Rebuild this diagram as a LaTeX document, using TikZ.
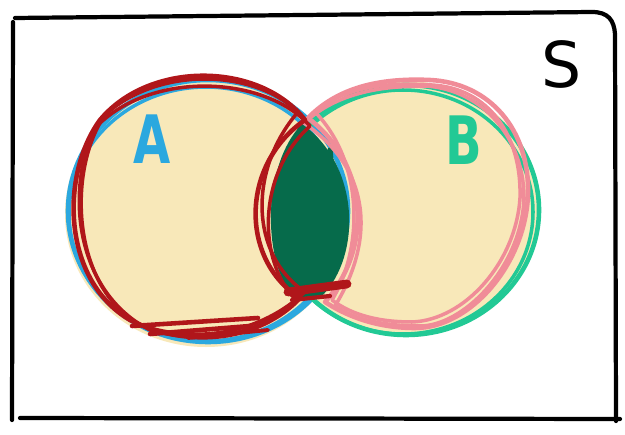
\documentclass[tikz,border=0pt]{standalone}
\usepackage{fontspec}
\setmainfont{DejaVu Sans}
\definecolor{cream}{HTML}{F8E8B9}
\definecolor{blueA}{HTML}{2BA8DF}
\definecolor{greenB}{HTML}{22C995}
\definecolor{pinkB}{HTML}{F08C98}
\definecolor{redA}{HTML}{B0161A}
\definecolor{lensG}{HTML}{066B4B}
\tikzset{
  frame/.style={draw=black, line width=2.4pt, line cap=round, line join=round},
  outl/.style={line width=2.6pt, line cap=round, line join=round},
  sketch/.style={line width=2pt, line cap=round, line join=round},
  lbl/.style={font=\bfseries\fontsize{38}{38}\selectfont, inner sep=0pt, xscale=0.72},
  slbl/.style={font=\fontsize{36}{36}\selectfont, inner sep=0pt}
}
\begin{document}
\begin{tikzpicture}[x=0.02cm,y=-0.02cm]
\useasboundingbox (0,0) rectangle (625,435);
\fill[white] (0,0) rectangle (625,435);
% frame
\draw[frame] (13,22) -- (12,420);
\draw[frame] (15,18) -- (592,12) .. controls (608,12) and (614,20) .. (615,34) -- (616,421);
\draw[frame] (20,418) -- (620,419);
% cream fills
\fill[cream] (206,214) ellipse [x radius=141, y radius=133];
\fill[cream] (407,208) ellipse [x radius=133, y radius=127];
% blue A outline
\draw[blueA, outl] (208,211) ellipse [x radius=140, y radius=131];
\draw[blueA, sketch] (206,214) ellipse [x radius=137, y radius=127];
% green B outline
\draw[greenB, outl] (406,210) ellipse [x radius=133, y radius=125];
\draw[greenB, sketch] (403,212) ellipse [x radius=130, y radius=122];
% dark green lens
\fill[lensG] (302,124) .. controls (262,165) and (262,262) .. (294,298)
  -- (322,296) .. controls (362,255) and (360,165) .. (302,124) -- cycle;
\draw[lensG, line width=3pt, line cap=round] (300,128) -- (292,282);
\draw[lensG, line width=3pt, line cap=round] (330,150) -- (340,260);
% pink B crescent
\draw[pinkB, outl] (308,118) .. controls (340,85) and (385,78) .. (430,80)
  .. controls (490,83) and (530,130) .. (528,195)
  .. controls (525,265) and (470,328) .. (415,328)
  .. controls (375,328) and (345,315) .. (325,302)
  .. controls (372,250) and (370,165) .. (308,118);
\draw[pinkB, sketch] (315,112) .. controls (345,86) and (390,82) .. (432,85)
  .. controls (488,88) and (522,135) .. (520,198)
  .. controls (516,262) and (465,320) .. (412,322)
  .. controls (372,322) and (348,312) .. (332,300)
  .. controls (365,245) and (362,160) .. (315,112);
\draw[pinkB, sketch] (304,123) .. controls (338,92) and (382,86) .. (426,86)
  .. controls (484,90) and (525,140) .. (524,200)
  .. controls (520,270) and (462,326) .. (420,326)
  .. controls (380,326) and (352,318) .. (335,306)
  .. controls (375,240) and (372,170) .. (304,123);
% red A crescent
\draw[redA, outl] (305,120) .. controls (260,62) and (150,60) .. (100,120)
  .. controls (60,175) and (62,280) .. (130,320)
  .. controls (190,350) and (260,340) .. (300,298)
  .. controls (240,260) and (240,165) .. (305,120);
\draw[redA, sketch] (298,112) .. controls (255,70) and (160,65) .. (105,115)
  .. controls (68,168) and (70,285) .. (140,325)
  .. controls (200,345) and (262,332) .. (305,292)
  .. controls (250,255) and (248,170) .. (298,112);
\draw[redA, sketch] (310,126) .. controls (265,75) and (150,70) .. (95,128)
  .. controls (65,190) and (75,292) .. (150,330)
  .. controls (215,348) and (270,328) .. (296,300)
  .. controls (258,262) and (256,175) .. (310,126);
% red sketch strokes
\draw[redA, line width=2.6pt, line cap=round] (132,326) -- (258,318);
\draw[redA, line width=2.6pt, line cap=round] (150,334) -- (250,326);
\draw[redA, line width=2.2pt, line cap=round] (188,338) -- (268,330);
\draw[redA, line width=5pt, line cap=round] (288,292) -- (347,284);
\draw[redA, line width=2.4pt, line cap=round] (292,300) -- (330,296);
% labels
\node[lbl, text=blueA] (labA) at (152,139) {A};
\node[lbl, text=greenB] (labB) at (464,140) {B};
\node[slbl, text=black] (labS) at (562,64) {S};
\end{tikzpicture}
\end{document}
